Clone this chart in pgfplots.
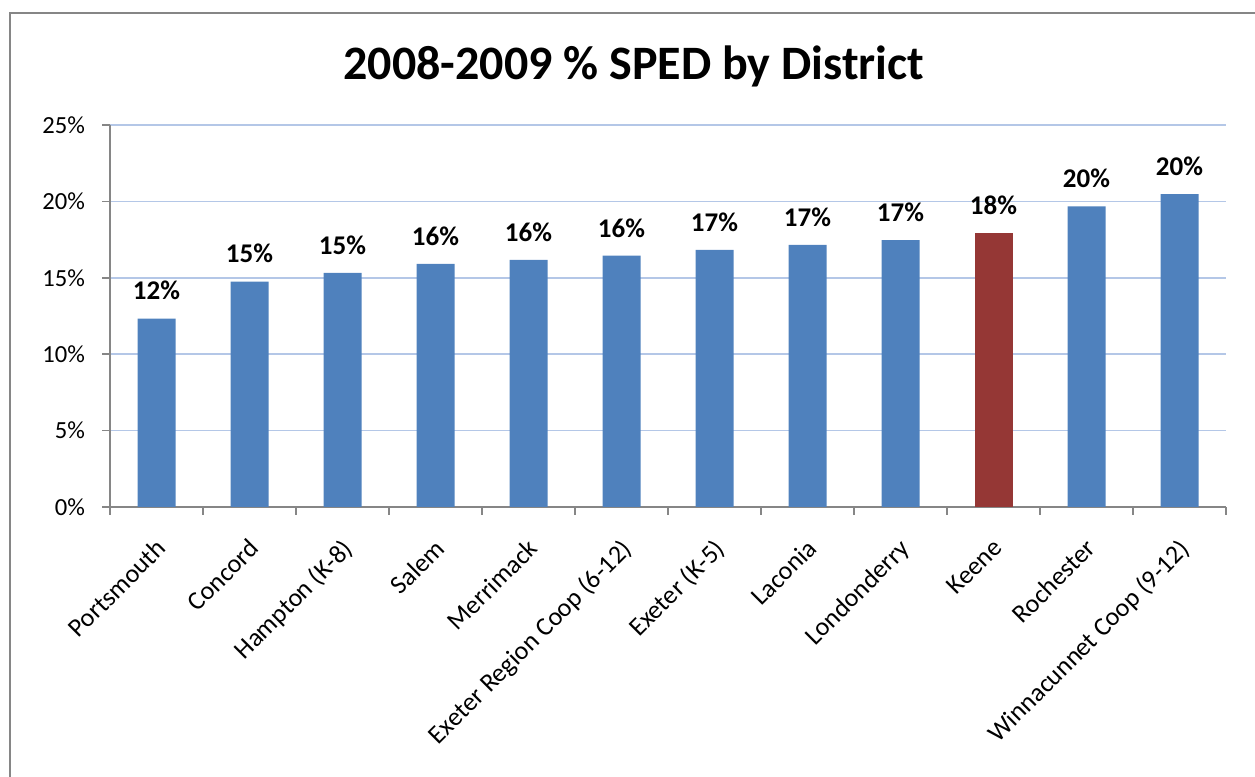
\documentclass[border=0pt]{standalone}
\usepackage{fontspec}
\setmainfont{Carlito}
\usepackage{pgfplots}
\pgfplotsset{compat=1.18}
\definecolor{barblue}{HTML}{4F81BD}
\definecolor{barred}{HTML}{953735}
\definecolor{gridblue}{HTML}{B4C7E7}
\definecolor{axisgray}{HTML}{868686}

\begin{document}
\begin{tikzpicture}
\path[use as bounding box] (0,0) rectangle (627.5pt,388.5pt);
% chart frame (runs off the right and bottom edges)
\draw[axisgray, line width=0.8pt] (5pt,-5pt) -- (5pt,382pt) -- (640pt,382pt);
\begin{axis}[
  at={(55pt,135pt)}, anchor=south west,
  scale only axis, width=558pt, height=191pt,
  ymin=0, ymax=25, xmin=-0.5, xmax=11.5,
  axis x line=bottom, axis y line=left,
  axis line style={-, draw=axisgray, line width=0.8pt},
  ytick={0,5,...,25},
  yticklabel={\pgfmathprintnumber{\tick}\%},
  ymajorgrids, grid style={gridblue, line width=0.8pt},
  tick align=outside, major tick length=4pt, minor tick length=4pt,
  tick style={axisgray, line width=0.8pt},
  xtick={0,...,11},
  xticklabels={Portsmouth, Concord, Hampton (K-8), Salem, Merrimack,
    Exeter Region Coop (6-12), Exeter (K-5), Laconia, Londonderry,
    Keene, Rochester, Winnacunnet Coop (9-12)},
  major x tick style={draw=none},
  minor xtick={-0.5,0.5,...,11.5},
  xticklabel style={xshift=-1pt, yshift=-11pt, rotate=45, anchor=north east,
    inner sep=0pt, font=\fontsize{13}{15}\selectfont},
  yticklabel style={font=\fontsize{12.3}{14}\selectfont, xshift=-5pt},
  /pgf/number format/assume math mode=true,
  ybar, bar width=19pt, bar shift=0pt,
  nodes near coords={\pgfmathprintnumber[fixed,precision=0]{\pgfplotspointmeta}\%},
  nodes near coords style={font=\bfseries\fontsize{13.5}{15}\selectfont,
    anchor=south, inner sep=0pt, yshift=9pt, black},
  title={2008-2009 \% SPED by District},
  title style={font=\bfseries\fontsize{24}{28}\selectfont,
    at={(axis description cs:0.4695,1)}, anchor=center, yshift=23.5pt},
]
\addplot[fill=barblue, draw=none] coordinates {
  (0,12.33) (1,14.75) (2,15.32) (3,15.91) (4,16.18) (5,16.45)
  (6,16.83) (7,17.16) (8,17.47) (10,19.67) (11,20.48)};
\addplot[fill=barred, draw=none] coordinates {(9,17.94)};
\end{axis}
\end{tikzpicture}
\end{document}
